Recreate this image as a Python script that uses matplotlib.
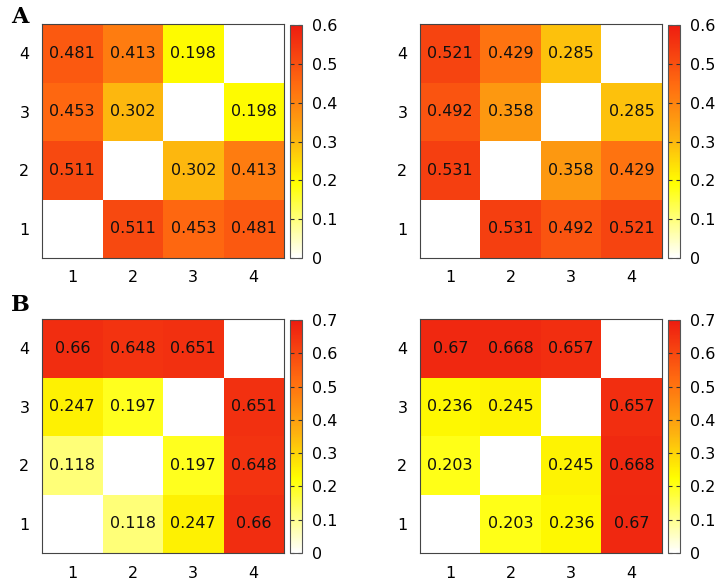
import numpy as np
import matplotlib
matplotlib.use('Agg')
import matplotlib.pyplot as plt
from matplotlib.colors import LinearSegmentedColormap

# Datos de las cuatro matrices (diagonal vacia)
labels = [1, 2, 3, 4]
a_left = [[None, 0.511, 0.453, 0.481],
          [0.511, None, 0.302, 0.413],
          [0.453, 0.302, None, 0.198],
          [0.481, 0.413, 0.198, None]]
a_right = [[None, 0.531, 0.492, 0.521],
           [0.531, None, 0.358, 0.429],
           [0.492, 0.358, None, 0.285],
           [0.521, 0.429, 0.285, None]]
b_left = [[None, 0.118, 0.247, 0.66],
          [0.118, None, 0.197, 0.648],
          [0.247, 0.197, None, 0.651],
          [0.66, 0.648, 0.651, None]]
b_right = [[None, 0.203, 0.236, 0.67],
           [0.203, None, 0.245, 0.668],
           [0.236, 0.245, None, 0.657],
           [0.67, 0.668, 0.657, None]]
a_ticks = [0, 0.1, 0.2, 0.3, 0.4, 0.5, 0.6]
b_ticks = [0, 0.1, 0.2, 0.3, 0.4, 0.5, 0.6, 0.7]

cmap = LinearSegmentedColormap.from_list('wyr', [(0, '#ffffff'), (0.32, '#ffff00'),
                                                 (0.52, '#fdb010'), (0.75, '#ff6a10'),
                                                 (1.0, '#ee1c10')])
cmap.set_bad('white')

W, H = 721, 579
fig = plt.figure(figsize=(W / 100, H / 100), dpi=100)


def box(x0, y0, x1, y1):
    return [x0 / W, 1 - y1 / H, (x1 - x0) / W, (y1 - y0) / H]


def panel(mat, vmax, ticks, x0, y0):
    arr = np.array([[np.nan if v is None else v for v in row] for row in mat], dtype=float)
    ax = fig.add_axes(box(x0, y0, x0 + 242, y0 + 234))
    im = ax.imshow(arr, cmap=cmap, vmin=0, vmax=vmax, origin='lower', aspect='auto',
                   extent=(0.5, 4.5, 0.5, 4.5))
    for i in range(4):
        for j in range(4):
            if mat[i][j] is not None:
                ax.text(j + 1, i + 1, f'{mat[i][j]:g}', ha='center', va='center', fontsize=11.5, color='#111111')
    ax.set_xticks(labels)
    ax.set_yticks(labels)
    ax.tick_params(length=0, labelsize=11.5, pad=9)
    for s in ax.spines.values():
        s.set_color('#444444')
    cax = fig.add_axes(box(x0 + 248, y0 + 1, x0 + 260, y0 + 234))
    cb = fig.colorbar(im, cax=cax, ticks=ticks)
    cb.ax.set_yticklabels([f'{t:g}' for t in ticks])
    cb.ax.tick_params(direction='in', left=True, right=True, length=3, width=0.8,
                      labelsize=11.5, pad=7, color='#333333')
    cb.outline.set_edgecolor('#555555')


panel(a_left, 0.6, a_ticks, 42, 24)
panel(a_right, 0.6, a_ticks, 420, 24)
panel(b_left, 0.7, b_ticks, 42, 319)
panel(b_right, 0.7, b_ticks, 420, 319)

fig.text(20 / W, 1 - 17 / H, 'A', family='DejaVu Serif', fontweight='bold', fontsize=16, ha='center', va='center')
fig.text(20 / W, 1 - 305 / H, 'B', family='DejaVu Serif', fontweight='bold', fontsize=16, ha='center', va='center')

fig.savefig('out.png', dpi=100)
